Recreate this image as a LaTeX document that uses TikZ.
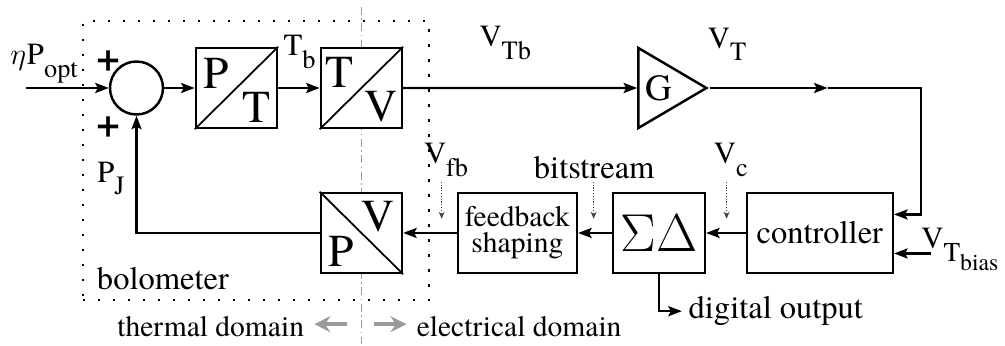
\documentclass[tikz,border=0pt]{standalone}
\usepackage{fontspec}
\setmainfont{texgyretermes}[Extension=.otf,UprightFont=*-regular,BoldFont=*-bold,ItalicFont=*-italic,BoldItalicFont=*-bolditalic]
\usetikzlibrary{positioning,arrows.meta,shapes.geometric,calc,fit,backgrounds}
\definecolor{domgray}{HTML}{9A9A9A}
\definecolor{hintgray}{HTML}{444444}
\newcommand{\fstext}{\fontsize{18.5}{16}\selectfont}
\newcommand{\fssmall}{\fontsize{16.8}{14.6}\selectfont}
\newcommand{\fslbl}{\fontsize{17.5}{18}\selectfont}
\newcommand{\fsconv}{\fontsize{26}{26}\selectfont}
\newcommand{\lsub}[1]{\raisebox{-0.42em}{\fontsize{15}{15}\selectfont #1}}
\tikzset{
  blk/.style   ={draw,fill=white,line width=1.4pt,minimum height=16mm,inner sep=0pt,align=center,font=\fstext},
  conv/.style  ={blk,minimum width=16.2mm},
  cl/.style    ={font=\fsconv,inner sep=0pt},
  sumc/.style  ={circle,draw,fill=white,line width=1.4pt,minimum size=10.6mm,inner sep=0pt},
  amp/.style   ={isosceles triangle,isosceles triangle stretches,minimum width=16mm,minimum height=13.6mm,draw,fill=white,line width=1.4pt,inner sep=0pt,font=\fontsize{21}{21}\selectfont},
  lbl/.style   ={font=\fslbl,inner sep=0pt,anchor=base west},
  sgn/.style   ={font=\fontsize{24}{24}\selectfont\bfseries,inner sep=0pt},
  arr/.style   ={-{Stealth[length=2.7mm,width=2mm,inset=0.5mm]},line width=1.4pt},
  hint/.style  ={-{Stealth[length=1.4mm,width=1.2mm]},draw=hintgray,line width=0.8pt,dash pattern=on 0.7pt off 0.9pt},
  garr/.style  ={-{Stealth[length=3.2mm,width=3.2mm,inset=1.1mm]},line width=0.75mm,draw=domgray},
  bolo/.style  ={draw,line width=0.45mm,dash pattern=on 0.45mm off 2.55mm,inner sep=5.2mm},
  divide/.style={draw=domgray,line width=0.25mm,dash pattern=on 1.6mm off 0.7mm on 0.3mm off 0.7mm},
}
\begin{document}
\begin{tikzpicture}
  \useasboundingbox (-27.3mm,17.6mm) rectangle (173.7mm,-51.4mm);
  % forward path
  \node[sumc] (sum) at (0,0) {};
  \node[conv, right=6.1mm of sum] (pt) {};
  \node[conv, right=8.3mm of pt] (tv) {};
  \node[amp, right=46.8mm of tv] (g) {G};
  % feedback path
  \node[conv, below=12.5mm of tv] (pv) {};
  \node[blk, font=\fssmall, minimum width=23.8mm, right=10.7mm of pv] (fb) {feedback\\shaping};
  \node[blk, font=\fontsize{24.88}{24.88}\selectfont, minimum width=18.4mm, right=6.7mm of fb] (sd) {\scalebox{1.22}{$\Sigma\Delta$}};
  \node[blk, minimum width=29.2mm, right=7.9mm of sd] (ctl) {controller};

  % converters
  \draw[line width=1pt] (pt.south west) -- (pt.north east);
  \node[cl] (ptP) at ($(pt.center)+(-4mm,3mm)$) {P};
  \node[cl] (ptT) at ($(pt.center)+(4mm,-3.8mm)$) {T};
  \draw[line width=1pt] (tv.south west) -- (tv.north east);
  \node[cl] (tvT) at ($(tv.center)+(-4.4mm,3.1mm)$) {T};
  \node[cl] (tvV) at ($(tv.center)+(4mm,-3.7mm)$) {V};
  \draw[line width=1pt] (pv.north west) -- (pv.south east);
  \node[cl] (pvV) at ($(pv.center)+(3.4mm,3.2mm)$) {V};
  \node[cl] (pvP) at ($(pv.center)+(-4mm,-3.6mm)$) {P};

  % signal labels
  \node[lbl] (eta) at ($(sum.center)+(-25.3mm,4.6mm)$) {$\eta$\kern0.5pt P\lsub{opt}};
  \node[sgn] (plusa) at ($(sum.center)+(-5.5mm,5.4mm)$) {+};
  \node[sgn] (plusb) at ($(sum.center)+(-5.5mm,-7.8mm)$) {+};
  \node[lbl] (pj) at ($(sum.center)+(-7.9mm,-18.8mm)$) {P\lsub{J}};
  \node[lbl] (tb) at ($(pt.north east)+(1mm,-1.8mm)$) {T\lsub{b}};
  \node[lbl] (vtb) at ($(tv.north east)+(15.2mm,0)$) {V\lsub{Tb}};
  \node[lbl] (vt) at ($(g.apex)+(-0.4mm,8mm)$) {V\lsub{T}};
  \node[lbl] (vfb) at ($(fb.north west)+(-6.6mm,5.6mm)$) {V\lsub{fb}};
  \node[lbl, font=\fstext] (bits) at ($(sd.north west)+(-15.6mm,2.6mm)$) {bitstream};
  \node[lbl] (vc) at ($(ctl.north west)+(-6.4mm,5.6mm)$) {V\lsub{c}};

  % connectors
  \coordinate (pin) at ($(sum.west)+(-16.6mm,0)$);
  \draw[arr] (pin) -- (sum.west);
  \draw[arr] (sum) -- (pt);
  \draw[arr] (pt) -- (tv);
  \draw[arr] (tv) -- (g);
  \coordinate (vtmid) at ($(g.apex)+(23.6mm,0)$);
  \coordinate (turn) at ($(ctl.east)+(5.4mm,0)$);
  \coordinate (ctlin) at ($(ctl.east)+(0,3.7mm)$);
  \draw[arr] (g.apex) -- (vtmid);
  \draw[arr] (vtmid) -- (turn |- vtmid) |- (ctlin);
  \coordinate (bias) at ($(ctl.east)+(0,-4.1mm)$);
  \coordinate (biastail) at ($(bias)+(7.4mm,0)$);
  \draw[arr] (biastail) -- (bias);
  \node[lbl] (vbias) at ($(biastail)+(-2mm,1mm)$) {V\raisebox{-0.42em}{\fontsize{15.5}{15.5}\selectfont T\raisebox{-0.35em}{\fontsize{13.5}{13.5}\selectfont bias}}};
  \draw[arr] (ctl) -- (sd);
  \draw[arr] (sd) -- (fb);
  \draw[arr] (fb) -- (pv);
  \draw[arr] (pv.west) -| (sum.south);

  % digital output
  \coordinate (dturn) at ($(sd.south)+(0,-7.4mm)$);
  \node[lbl, font=\fstext, right=5.9mm of dturn] (dout) {digital output};
  \draw[arr, shorten >=1.3mm] (sd.south) |- (dout.west);

  % dotted hints
  \coordinate (hfa) at ($(fb.north west)+(-3mm,2mm)$);
  \coordinate (hfb) at ($(fb.north west)+(-3mm,-5.4mm)$);
  \coordinate (hba) at ($(sd.north west)+(-3.6mm,2mm)$);
  \coordinate (hbb) at ($(sd.north west)+(-3.6mm,-5.4mm)$);
  \coordinate (hca) at ($(ctl.north west)+(-3.8mm,2mm)$);
  \coordinate (hcb) at ($(ctl.north west)+(-3.8mm,-5.4mm)$);
  \draw[hint] (hfa) -- (hfb);
  \draw[hint] (hba) -- (hbb);
  \draw[hint] (hca) -- (hcb);

  % bolometer frame and domain split
  \coordinate (dtop) at ($(tv.north)+(0,8mm)$);
  \coordinate (dbot) at ($(pv.south)+(0,-14mm)$);
  \begin{scope}[on background layer]
    \node[bolo, fit=(sum.west)(tv.north)(pv.south east)] (frame) {};
    \draw[divide] (dtop) -- (dbot);
  \end{scope}
  \node[lbl, font=\fstext] (bolol) at ($(frame.south west)+(3mm,2.4mm)$) {bolometer};

  \coordinate (dmid) at ($(pv.south)+(0,-10mm)$);
  \coordinate (gla) at ($(dmid)+(-2.8mm,0)$);
  \coordinate (glb) at ($(dmid)+(-9.4mm,0)$);
  \coordinate (gra) at ($(dmid)+(2.6mm,0)$);
  \coordinate (grb) at ($(dmid)+(9mm,0)$);
  \draw[garr] (gla) -- (glb);
  \draw[garr] (gra) -- (grb);
  \node[lbl, anchor=base east, font=\fssmall] (thd) at ($(dmid)+(-11.4mm,-2.4mm)$) {thermal domain};
  \node[lbl, font=\fssmall] (eld) at ($(dmid)+(11mm,-2.4mm)$) {electrical domain};
\end{tikzpicture}
\end{document}
